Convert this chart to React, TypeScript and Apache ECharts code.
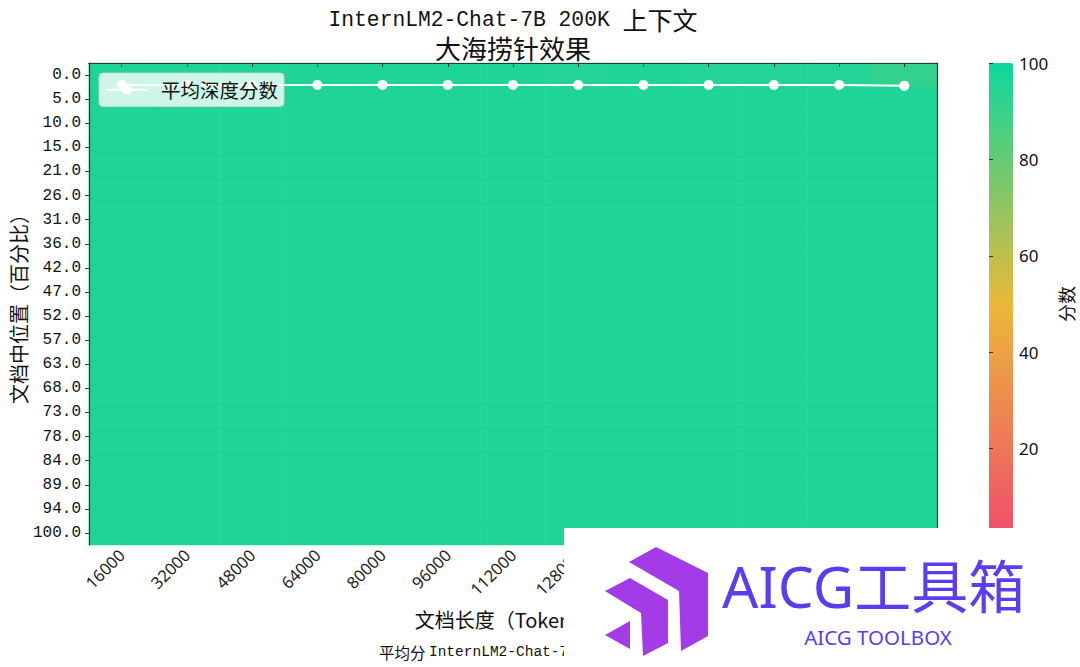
import React, { useEffect, useRef } from "react";
import * as echarts from "echarts";

const xLabels = ["16000", "32000", "48000", "64000", "80000", "96000", "112000", "128000", "144000", "160000", "176000", "192000", "200000"];
const yLabels = ["0.0", "5.0", "10.0", "15.0", "21.0", "26.0", "31.0", "36.0", "42.0", "47.0", "52.0", "57.0", "63.0", "68.0", "73.0", "78.0", "84.0", "89.0", "94.0", "100.0"];

// scores per depth row (rows) and context length (columns)
const scoreRows: number[][] = [
  [96, 96, 96, 96, 96, 96, 96, 95, 96, 95, 95, 95, 91],
  [96, 96, 96, 96, 96, 96, 96, 96, 96, 96, 96, 96, 96],
  [96, 96, 96, 96, 96, 96, 96, 96, 96, 96, 96, 96, 96],
  [96, 96, 96, 96, 96, 96, 96, 96, 96, 96, 96, 96, 96],
  [96, 96, 96, 96, 96, 96, 96, 96, 96, 96, 96, 96, 96],
  [96, 96, 96, 96, 96, 96, 96, 96, 96, 96, 96, 96, 96],
  [96, 96, 96, 96, 96, 96, 96, 96, 96, 96, 96, 96, 96],
  [96, 96, 96, 96, 96, 96, 96, 96, 96, 96, 96, 96, 96],
  [96, 96, 96, 96, 96, 96, 96, 96, 96, 96, 96, 96, 96],
  [96, 96, 96, 96, 96, 96, 96, 96, 96, 96, 96, 96, 96],
  [96, 96, 96, 96, 96, 96, 96, 96, 96, 96, 96, 96, 96],
  [96, 96, 96, 96, 96, 96, 96, 96, 96, 96, 96, 96, 96],
  [96, 96, 96, 96, 96, 96, 96, 96, 96, 96, 96, 96, 96],
  [96, 96, 96, 96, 96, 96, 96, 96, 96, 96, 96, 96, 96],
  [96, 96, 96, 96, 96, 96, 96, 96, 96, 96, 96, 96, 96],
  [96, 96, 96, 96, 96, 96, 96, 96, 96, 96, 96, 96, 96],
  [96, 96, 96, 96, 96, 96, 96, 96, 96, 96, 96, 96, 96],
  [96, 96, 96, 96, 96, 96, 96, 96, 96, 96, 96, 96, 96],
  [96, 96, 96, 96, 96, 96, 96, 96, 96, 96, 96, 96, 96],
  [96, 96, 96, 96, 96, 96, 96, 96, 96, 96, 96, 96, 96],
];

// average depth score line, plotted in row units (0 = top edge of heatmap)
const avgDepthLine = [0.91, 0.91, 0.91, 0.91, 0.91, 0.91, 0.91, 0.91, 0.91, 0.91, 0.91, 0.91, 0.94];

const colorStops = ["#F0496E", "#EBB839", "#0CD79F"];

const CJK = "'Noto Sans CJK SC', 'Noto Sans', sans-serif";
const MONO = "'Liberation Mono', 'Noto Sans CJK SC', monospace";

export default function App() {
  const ref = useRef<HTMLDivElement>(null);

  useEffect(() => {
    if (!ref.current) return;
    const chart = echarts.init(ref.current, null, { renderer: "svg" });

    const heatData: number[][] = [];
    scoreRows.forEach((row, r) => row.forEach((v, c) => heatData.push([c, r, v])));

    const option: any = {
      animation: false,
      backgroundColor: "#ffffff",
      grid: [
        { left: 89, right: 143, top: 63, bottom: 122, containLabel: false, outerBoundsMode: "none" },
        { left: 989, width: 24, top: 63, height: 482, containLabel: false, outerBoundsMode: "none" },
      ],
      xAxis: [
        {
          type: "category",
          gridIndex: 0,
          data: xLabels,
          position: "bottom",
          z: 10,
          axisLine: { show: true, lineStyle: { color: "#333", width: 1.2 } },
          axisTick: { show: true, alignWithLabel: true, length: 4, lineStyle: { color: "#333" } },
          axisLabel: { rotate: 45, fontSize: 16.5, color: "#222", fontFamily: "'Noto Sans', sans-serif", margin: 7, interval: 0 },
          name: "文档长度（Token数）",
          nameLocation: "middle",
          nameGap: 64,
          nameMoveOverlap: false,
          nameTextStyle: { fontSize: 20, color: "#111", fontFamily: CJK },
          splitLine: { show: false },
        },
        {
          type: "category",
          gridIndex: 0,
          data: xLabels,
          position: "top",
          z: 10,
          axisLine: { show: true, lineStyle: { color: "#333", width: 1.2 } },
          axisTick: { show: false },
          axisLabel: { show: false },
        },
        { type: "value", gridIndex: 1, show: false, min: 0, max: 1 },
      ],
      yAxis: [
        {
          type: "category",
          gridIndex: 0,
          data: yLabels,
          inverse: true,
          z: 10,
          axisLine: { show: true, lineStyle: { color: "#333", width: 1.2 } },
          axisTick: { show: true, alignWithLabel: true, length: 4, lineStyle: { color: "#333" } },
          axisLabel: { fontSize: 16, color: "#111", fontFamily: MONO, margin: 8, interval: 0 },
          name: "文档中位置（百分比）",
          nameLocation: "middle",
          nameGap: 61,
          nameMoveOverlap: false,
          nameTextStyle: { fontSize: 20, color: "#111", fontFamily: CJK },
        },
        {
          type: "value",
          gridIndex: 0,
          min: 0,
          max: yLabels.length,
          inverse: true,
          position: "right",
          z: 10,
          axisLine: { show: true, lineStyle: { color: "#333", width: 1.2 } },
          axisTick: { show: false },
          axisLabel: { show: false },
          splitLine: { show: false },
        },
        {
          type: "value",
          gridIndex: 1,
          min: 0,
          max: 100,
          interval: 20,
          position: "right",
          z: 10,
          axisLine: { show: false },
          axisTick: { show: true, length: 4, lineStyle: { color: "#333" } },
          axisLabel: { fontSize: 17, color: "#111", fontFamily: "'Noto Sans', sans-serif", margin: 6, showMinLabel: false },
          splitLine: { show: false },
          name: "分数",
          nameLocation: "middle",
          nameGap: 44,
          nameRotate: 90,
          nameMoveOverlap: false,
          nameTextStyle: { fontSize: 18, color: "#111", fontFamily: CJK },
        },
      ],
      visualMap: {
        type: "continuous",
        min: 0,
        max: 100,
        seriesIndex: 0,
        calculable: false,
        show: true,
        left: 989,
        top: 63,
        itemWidth: 24,
        itemHeight: 482,
        padding: 0,
        text: ["", ""],
        textGap: 0,
        inRange: { color: colorStops },
      },
      legend: {
        left: 99,
        top: 73,
        z: 20,
        data: ["平均深度分数"],
        backgroundColor: "rgba(255,255,255,0.78)",
        borderColor: "rgba(210,210,210,0.9)",
        borderWidth: 1,
        borderRadius: 4,
        padding: [7, 6, 7, 6],
        itemWidth: 42,
        itemHeight: 12,
        itemGap: 10,
        textStyle: { fontSize: 19.5, color: "#111", fontFamily: CJK, padding: [0, 0, 0, 8] },
      },
      series: [
        {
          type: "heatmap",
          xAxisIndex: 0,
          yAxisIndex: 0,
          data: heatData,
          itemStyle: { borderWidth: 0 },
          emphasis: { disabled: true },
        },
        {
          name: "平均深度分数",
          type: "line",
          xAxisIndex: 0,
          yAxisIndex: 1,
          data: avgDepthLine,
          symbol: "circle",
          symbolSize: 10,
          z: 3,
          lineStyle: { color: "#ffffff", width: 2 },
          itemStyle: { color: "#ffffff" },
        },
      ],
      graphic: [
        {
          type: "text",
          x: 513,
          y: 20,
          style: {
            text: "{a|InternLM2-Chat-7B 200K }{b|上下文}",
            align: "center",
            verticalAlign: "middle",
            rich: {
              a: { fontFamily: MONO, fontSize: 21.3, fill: "#111", lineHeight: 28, verticalAlign: "middle" },
              b: { fontFamily: CJK, fontSize: 25, fill: "#111", lineHeight: 28, verticalAlign: "middle", padding: [0, 0, 3, 0] },
            },
          },
        },
        {
          type: "text",
          x: 513,
          y: 47,
          style: { text: "大海捞针效果", align: "center", verticalAlign: "middle", font: `26px ${CJK}`, fill: "#111" },
        },
        {
          type: "text",
          x: 379,
          y: 652,
          style: {
            text: "{b|平均分 }{a|InternLM2-Chat-7B 200K: 96.0}",
            align: "left",
            verticalAlign: "middle",
            rich: {
              a: { fontFamily: MONO, fontSize: 14.5, fill: "#111", lineHeight: 20, verticalAlign: "middle" },
              b: { fontFamily: CJK, fontSize: 15.5, fill: "#111", lineHeight: 20, verticalAlign: "middle" },
            },
          },
        },
        // watermark overlay
        {
          type: "group",
          z: 100,
          children: [
            { type: "rect", z: 100, shape: { x: 564, y: 528, width: 516, height: 139 }, style: { fill: "#ffffff" } },
            {
              type: "polygon", z: 101,
              shape: { points: [[629, 562], [656, 547], [708, 573], [708, 636], [681, 651], [679, 591]] },
              style: { fill: "#A33BE6" },
            },
            {
              type: "polygon", z: 101,
              shape: { points: [[605, 591], [630, 578], [668, 600], [668, 643], [643, 656], [641, 613]] },
              style: { fill: "#A33BE6" },
            },
            {
              type: "polygon", z: 101,
              shape: { points: [[605, 635], [630, 621], [630, 649]] },
              style: { fill: "#A33BE6" },
            },
            {
              type: "text", z: 101, x: 722, y: 586,
              style: { text: "AICG工具箱", font: `57px 'Noto Sans', 'Noto Sans CJK SC', sans-serif`, fill: "#5A3DF0", align: "left", verticalAlign: "middle" },
            },
            {
              type: "text", z: 101, x: 878, y: 637,
              style: { text: "AICG TOOLBOX", font: `20.5px 'Noto Sans', sans-serif`, fill: "#5A3DF0", align: "center", verticalAlign: "middle" },
            },
          ],
        },
      ],
    };

    chart.setOption(option);
    return () => chart.dispose();
  }, []);

  return <div ref={ref} style={{ width: 1080, height: 667, position: "absolute", left: 0, top: 0 }} />;
}
